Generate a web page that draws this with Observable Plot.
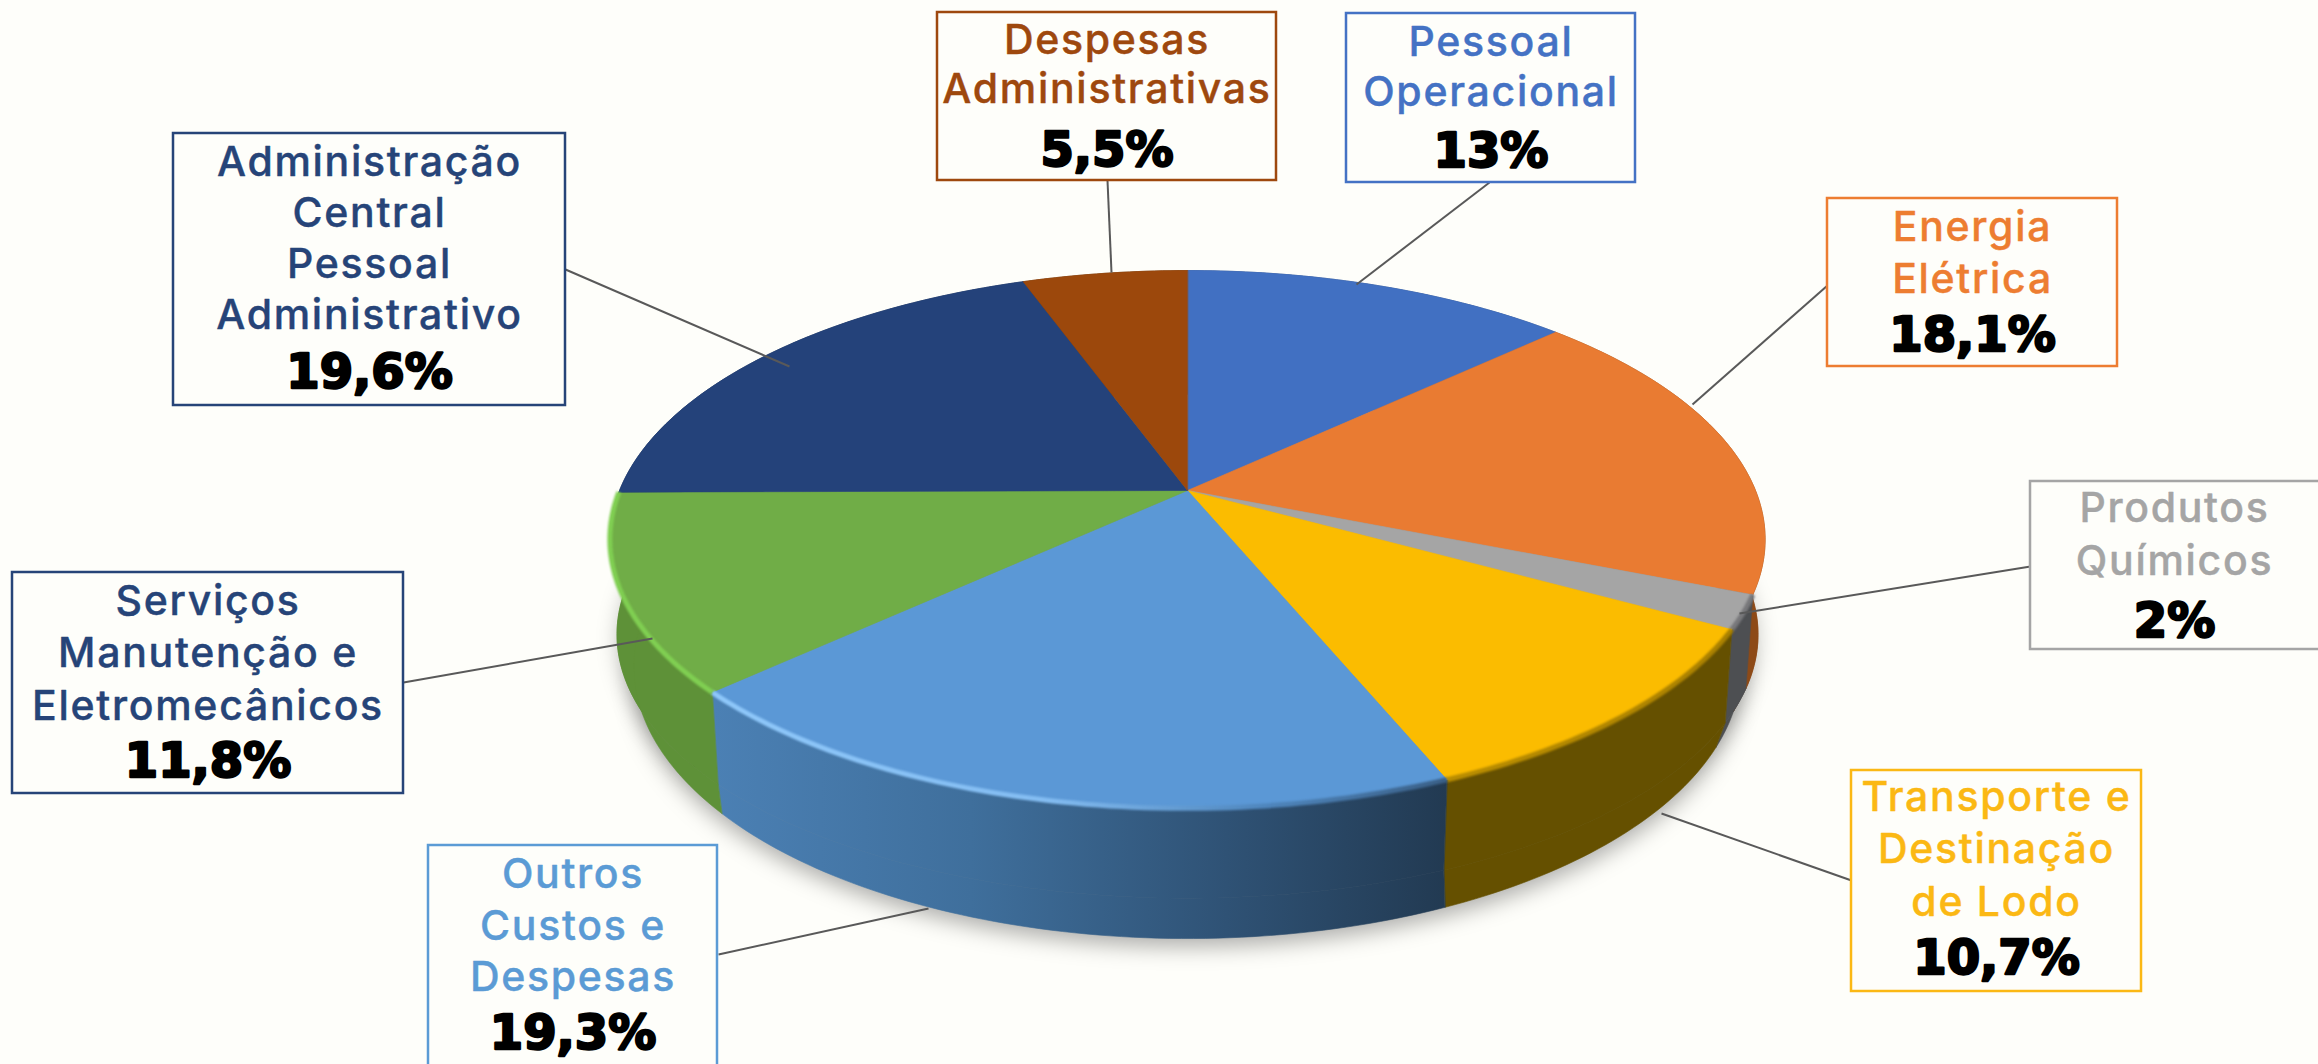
<!DOCTYPE html>
<html lang="pt">
<head>
<meta charset="utf-8">
<script src="https://cdn.jsdelivr.net/npm/d3@7"></script>
<script src="https://cdn.jsdelivr.net/npm/@observablehq/plot@0.6"></script>
<style>
html,body{margin:0;padding:0;background:#fefefa;overflow:hidden}
svg{display:block}
svg g[font-family^="Inter"] text{letter-spacing:1.7px}
</style>
</head>
<body>
<div id="chart"></div>
<script>
// --- data ---
const categories = ["Pessoal\nOperacional","Energia\nElétrica","Produtos\nQuímicos","Transporte e\nDestinação\nde Lodo","Outros\nCustos e\nDespesas","Serviços\nManutenção e\nEletromecânicos","Administração\nCentral\nPessoal\nAdministrativo","Despesas\nAdministrativas"];
const values = [13, 18.1, 2, 10.7, 19.3, 11.8, 19.6, 5.5];

// --- styles ---
const topColors  = ["#4170c2","#e97b32","#a5a5a5","#fbbc00","#5b98d6","#70ad47","#24427a","#9c480c"];
const sideFills  = ["#2a4a80","#8d4a17","#4d4f52","#655000","url(#sideBlue)","#5e9138","#172c50","#62300a"];
const textColors = ["#4472c4","#ed7d31","#a5a5a5","#fbb814","#5b9bd5","#264478","#264478","#9e480e"];
const rimColors  = [null,null,"#77777a","url(#rimGold)","url(#rimBlue)","#80cf52",null,null];

// --- layout: box [x1,x2,y1,y2], text centre y, line pitch, percent y, leader [x1,y1,x2,y2] ---
const boxes = [
 [1346,1635,13,182],[1827,2117,198,366],[2030,2322,481,649],[1851,2141,770,991],
 [428,717,845,1070],[12,403,572,793],[173,565,133,405],[937,1276,12,180]];
const textY   = [64,250,531,846,923,650,236,62.5];
const pitch   = [50,52,53,52.5,51.5,52.5,51,49];
const pctY    = [151,335,621,958,1033,761,372,150];
const leaders = [
 [1489,182,1356,284],[1827,285,1692,404],[2030,566,1739,613],[1851,880,1661,813],
 [718,954,928,908],[403,682,652,638],[565,269,789,366],[1107,180,1111,272]];

// --- projection of the tilted disc ---
const cx = 1187, rad = Math.PI / 180;
const topDisc = {cy:490, A:568, B:260, k:0.182};
const midDisc = {cy:586, A:561, B:255, k:0.182};
const botDisc = {cy:606, A:540, B:259, k:0.22};
const project = (d, t) => {
  const u = Math.sin(t), v = Math.cos(t), w = 1 + d.k * v;
  return {x: cx + d.A * u / w, y: d.cy - d.B * v / w};
};
const arcs = d3.pie().sort(null).value(d => d)(values);
const sweep = (d, a) => {
  const n = Math.max(2, Math.ceil((a.endAngle - a.startAngle) / rad));
  return d3.range(n + 1).map(i => project(d, a.startAngle + (a.endAngle - a.startAngle) * i / n));
};
const apex = {x: cx, y: topDisc.cy};
const closedLine = (pts, fill, extra = {}) =>
  Plot.line(pts, {x:"x", y:"y", fill, stroke:"none", curve:"linear-closed", ...extra});

// --- gradients ---
const grad = (id, x1, x2, stops) => {
  const g = d3.create("svg:linearGradient").attr("id", id)
    .attr("gradientUnits","userSpaceOnUse").attr("x1",x1).attr("x2",x2).attr("y1",0).attr("y2",0);
  stops.forEach(([o,c]) => g.append("stop").attr("offset",o).attr("stop-color",c));
  return g.node();
};
const defsMark = () => {
  const defs = d3.create("svg:defs");
  defs.append(() => grad("sideBlue",714,1446,[[0,"#4b80b4"],[0.35,"#3f6f9c"],[0.7,"#2f5275"],[1,"#223a52"]]));
  defs.append(() => grad("rimBlue",714,1446,[[0,"#8fc8fa"],[0.45,"#84bdf2"],[0.75,"#4f86bd"],[1,"#3a5f86"]]));
  defs.append(() => grad("rimGold",1446,1731,[[0,"#b98d00"],[1,"#a98000"]]));
  return defs.node();
};

const pctText = values.map(v => String(v).replace(".", ",") + "%");
const rows = categories.map((name, i) => ({
  name, pct: pctText[i], color: textColors[i],
  x1: boxes[i][0], x2: boxes[i][1], y1: boxes[i][2], y2: boxes[i][3],
  cx: (boxes[i][0] + Math.min(boxes[i][1], 2318)) / 2, ty: textY[i], py: pctY[i]
}));

const silhouette = d3.range(0, 361, 2).map(a => project(botDisc, a * rad));
const sideShadow = d3.range(0, 361, 2).map(a => project(midDisc, a * rad));

const marks = [
  defsMark,
  // soft shadow under the disc
  closedLine(silhouette.map(p => ({x:p.x, y:p.y + 8})), "#000", {fillOpacity:0.32, imageFilter:"blur(11px)"}),
  closedLine(sideShadow.map(p => ({x:p.x, y:p.y + 6})), "#000", {fillOpacity:0.22, imageFilter:"blur(10px)"}),
  // side walls: upper band then lower band
  ...arcs.flatMap((a, i) => [
    closedLine([...sweep(topDisc, a), ...sweep(midDisc, a).reverse()], sideFills[i], {stroke:sideFills[i], strokeWidth:0.6}),
    closedLine([...sweep(midDisc, a), ...sweep(botDisc, a).reverse()], sideFills[i], {stroke:sideFills[i], strokeWidth:0.6})
  ]),
  // top faces
  ...arcs.map((a, i) => closedLine([apex, ...sweep(topDisc, a)], topColors[i],
    {stroke: topColors[i], strokeWidth: 0.6})),
  // bevelled rim
  ...arcs.flatMap((a, i) => rimColors[i] ? [
    Plot.line(sweep(topDisc, a), {x:"x", y:"y", stroke: rimColors[i], strokeWidth: 5,
      strokeLinecap:"butt", imageFilter:"blur(1.2px)"})
  ] : []),
  // leader lines
  ...leaders.map(([x1,y1,x2,y2]) =>
    Plot.link([0], {x1:() => x1, y1:() => y1, x2:() => x2, y2:() => y2, stroke:"#595959", strokeWidth:2})),
  // label boxes
  ...rows.map(r => Plot.rect([r], {x1:"x1", x2:"x2", y1:"y1", y2:"y2", fill:"#fefefa", stroke:r.color, strokeWidth:2.5})),
  // names
  ...rows.map((r, i) => Plot.text([r], {x:"cx", y:"ty", text:"name", fill:r.color, stroke:r.color, strokeWidth:0.4,
    fontSize:41, fontWeight:500, fontFamily:"Inter, 'Noto Sans', sans-serif", textAnchor:"middle",
    lineAnchor:"middle", lineHeight: pitch[i] / 41})),
  // percentages
  Plot.text(rows, {x:"cx", y:"py", text:"pct", fill:"#000", stroke:"#000", strokeWidth:2.4,
    fontSize:48, fontWeight:700, fontFamily:"'DejaVu Sans', sans-serif", textAnchor:"middle", lineAnchor:"middle"})
];

const chart = Plot.plot({
  width: 2318, height: 1064, margin: 0,
  style: {background:"#fefefa"},
  x: {domain:[0,2318], range:[0,2318], axis:null},
  y: {domain:[0,1064], range:[0,1064], axis:null},
  marks
});
document.getElementById("chart").append(chart);
</script>
</body>
</html>
